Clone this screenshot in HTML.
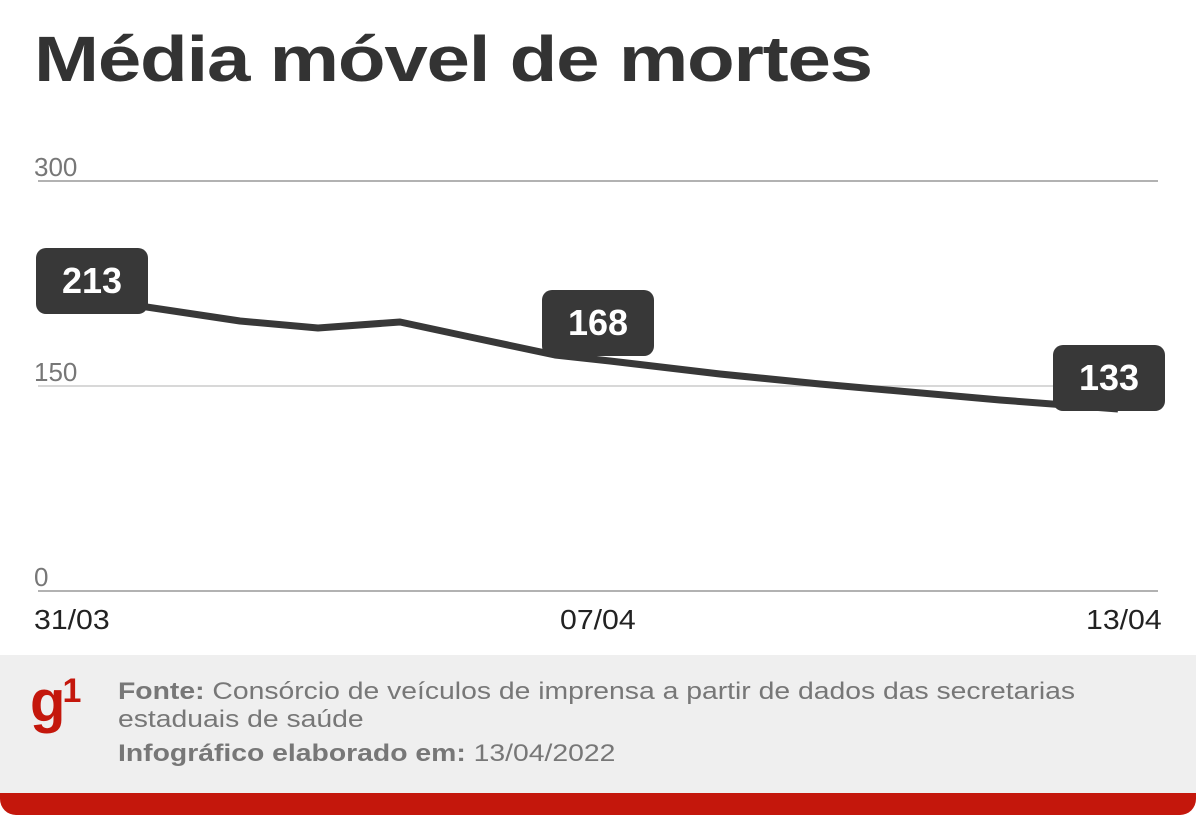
<!DOCTYPE html>
<html><head><meta charset="utf-8"><style>
body{margin:0;width:1200px;height:829px;background:#fff;overflow:hidden;font-family:"Liberation Sans",sans-serif;position:relative}
.t{position:absolute;left:34px;top:22px;font-size:64px;font-weight:bold;color:#333;letter-spacing:-1px;transform:scaleX(1.22);transform-origin:left top}
.ax{position:absolute;font-size:26px;color:#777}
.d{position:absolute;font-size:28px;color:#222;top:604px;transform:scaleX(1.08);transform-origin:left top}
.box{position:absolute;background:#383838;color:#fff;font-weight:bold;font-size:36px;border-radius:10px;text-align:center;line-height:66px;height:66px;width:112px}
.foot{position:absolute;left:0;top:655px;width:1196px;height:138px;background:#efefef}
.red{position:absolute;left:0;top:760px;width:1196px;height:55px;background:#c4170c;border-radius:0 0 16px 16px;z-index:-1}
.ft{position:absolute;left:118px;top:678px;font-size:24px;color:#777;line-height:28px;transform:scaleX(1.18);transform-origin:left top;white-space:nowrap}
</style></head><body>
<div class="t">Média móvel de mortes</div>
<div class="ax" style="left:34px;top:152px">300</div>
<div class="ax" style="left:34px;top:357px">150</div>
<div class="ax" style="left:34px;top:562px">0</div>
<svg style="position:absolute;left:0;top:0" width="1200" height="650">
<line x1="38" y1="181" x2="1158" y2="181" stroke="#999" stroke-width="1.5"/>
<line x1="38" y1="386" x2="1158" y2="386" stroke="#ccc" stroke-width="1.5"/>
<line x1="38" y1="591" x2="1158" y2="591" stroke="#999" stroke-width="1.5"/>
<polyline points="100,300 240,321 318,328 400,322 470,337 555,355 610,361 720,374 820,384 1000,400 1118,409" fill="none" stroke="#383838" stroke-width="7" stroke-linejoin="round"/>
</svg>
<div class="box" style="left:36px;top:248px">213</div>
<div class="box" style="left:542px;top:290px">168</div>
<div class="box" style="left:1053px;top:345px">133</div>
<div class="d" style="left:34px">31/03</div>
<div class="d" style="left:560px">07/04</div>
<div class="d" style="left:1086px">13/04</div>
<div class="red"></div>
<div class="foot"></div>
<div style="position:absolute;left:30px;top:668px;font-size:58px;font-weight:bold;color:#c4170c;letter-spacing:-3px">g<span style="font-size:34px;vertical-align:top;position:relative;top:4px">1</span></div>
<div class="ft"><b>Fonte:</b> Consórcio de veículos de imprensa a partir de dados das secretarias<br>estaduais de saúde<br><span style="line-height:40px"><b>Infográfico elaborado em:</b> 13/04/2022</span></div>
</body></html>
